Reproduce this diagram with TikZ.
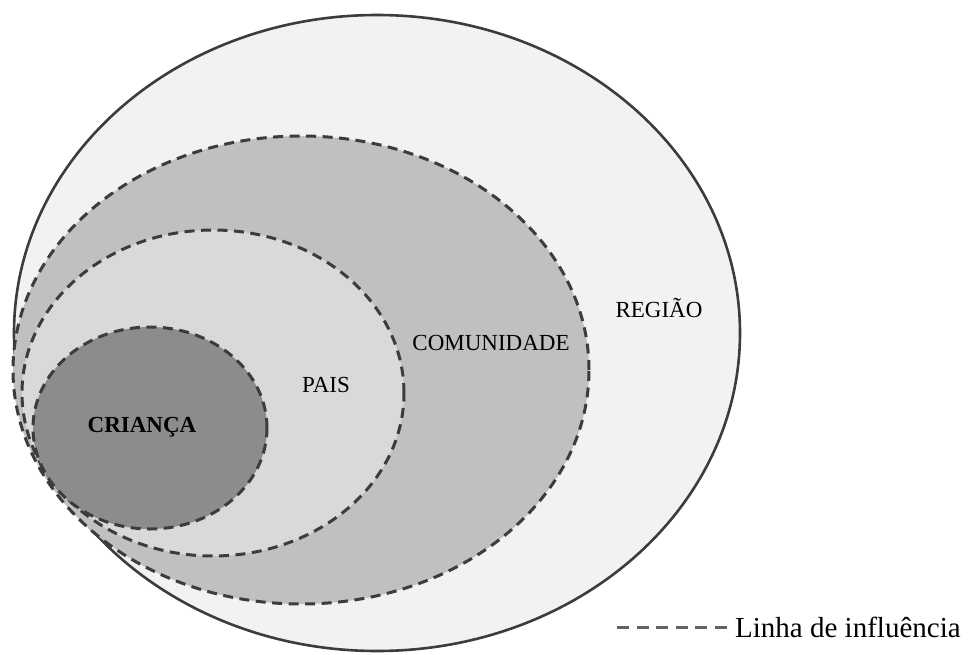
\documentclass[tikz,border=0pt]{standalone}
\usepackage{fontspec}
\setmainfont{Liberation Serif}
\usetikzlibrary{shapes.geometric}
\definecolor{edge}{HTML}{3C3C3C}
\definecolor{regfill}{HTML}{F2F2F2}
\definecolor{comfill}{HTML}{C0C0C0}
\definecolor{paisfill}{HTML}{D9D9D9}
\definecolor{crifill}{HTML}{8C8C8C}
\tikzset{
  zone/.style={ellipse, inner sep=0pt, outer sep=0pt, draw=edge},
  dashedzone/.style={zone, line width=3pt, dash pattern=on 10pt off 6.5pt},
  lbl/.style={font=\fontsize{23}{26}\selectfont, inner sep=0pt},
}
\begin{document}
\begin{tikzpicture}[x=1pt, y=-1pt]
\useasboundingbox (0,0) rectangle (970,654);
\node[zone, line width=2.6pt, fill=regfill, minimum width=726pt, minimum height=636pt] (regiao) at (377,333) {};
\node[dashedzone, fill=comfill, minimum width=576pt, minimum height=468pt] (comunidade) at (301,370) {};
\node[dashedzone, fill=paisfill, minimum width=382pt, minimum height=326pt] (pais) at (213,393) {};
\node[dashedzone, fill=crifill, minimum width=234pt, minimum height=202pt] (crianca) at (150,428) {};
\node[lbl, font=\fontsize{23}{26}\selectfont\bfseries] (tcrianca) at (142,427) {CRIANÇA};
\node[lbl] (tpais) at (326,385) {PAIS};
\node[lbl] (tcom) at (491,343) {COMUNIDADE};
\node[lbl] (treg) at (659,308) {REGIÃO};
\node[lbl, font=\fontsize{29}{32}\selectfont, anchor=base west] (legtext) at (735,637) {Linha de influência};
\coordinate (l0) at (617,627);
\coordinate (l1) at (727,627);
\draw[draw=edge!80, line width=3pt, dash pattern=on 12pt off 7.6pt] (l0) -- (l1);
\end{tikzpicture}
\end{document}
